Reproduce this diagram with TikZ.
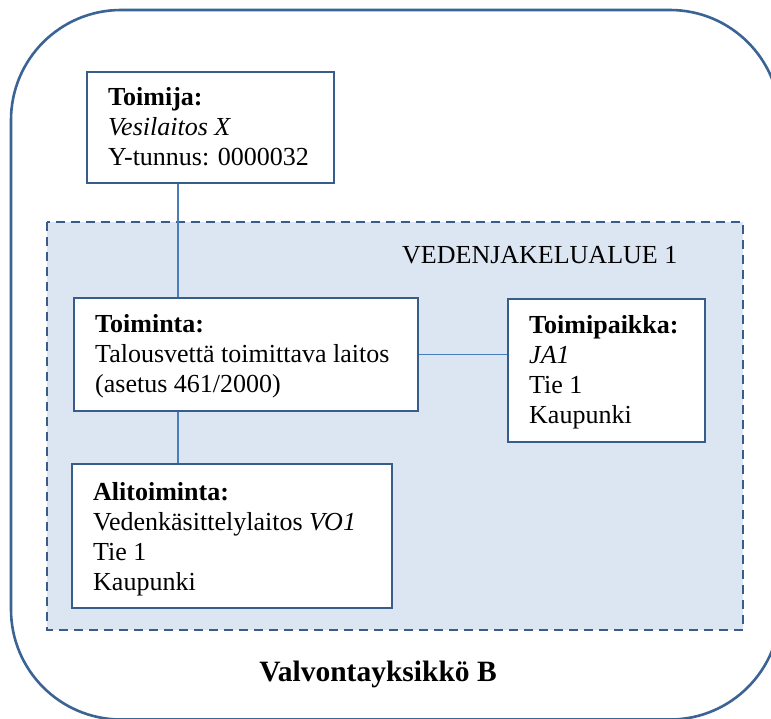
\documentclass[tikz,border=0pt]{standalone}
\usepackage{fontspec}
\setmainfont{LiberationSerif}[Extension=.ttf, UprightFont=*-Regular, BoldFont=*-Bold, ItalicFont=*-Italic, BoldItalicFont=*-BoldItalic]
\definecolor{bordercol}{HTML}{385D8A}
\definecolor{conncol}{HTML}{4A7EBB}
\definecolor{areafill}{HTML}{DCE6F2}
\definecolor{outercol}{HTML}{3B6495}
\begin{document}
\begin{tikzpicture}[x=1pt,y=-1pt,
  box/.style={draw=bordercol, line width=2pt, fill=white, inner sep=0pt, rectangle},
  conn/.style={draw=conncol, line width=1.6pt},
  txt/.style={anchor=base west, inner sep=0pt, font=\fontsize{26}{30}\selectfont},
  area/.style={draw=bordercol, line width=2.4pt, fill=areafill, dash pattern=on 9pt off 6pt}
]
\useasboundingbox (0,0) rectangle (771,718);
\clip (0,0) rectangle (771,718);
\fill[white] (0,0) rectangle (771,718);
% outer rounded frame
\draw[outercol, line width=2.6pt, rounded corners=110pt] (11,10) rectangle (780,719.5);
% dashed area
\path[area] (47,222) rectangle (743,630);
\node[txt] (areatitle) at (402,263) {VEDENJAKELUALUE 1};
% boxes
\node[box, minimum width=247pt, minimum height=111pt] (toimija) at (210.5,127.5) {};
\node[box, minimum width=344pt, minimum height=113pt] (toiminta) at (246,354.5) {};
\node[box, minimum width=197pt, minimum height=143pt] (toimipaikka) at (606.5,370.5) {};
\node[box, minimum width=320pt, minimum height=144pt] (alitoiminta) at (232,536) {};
% connectors
\coordinate (vx) at (178,0);
\draw[conn] (toimija.south -| vx) -- (toiminta.north -| vx);
\draw[conn] (toiminta.south -| vx) -- (alitoiminta.north -| vx);
\draw[conn] (toiminta.east) -- (toiminta.east -| toimipaikka.west);
% texts
\node[txt] (toimijatext) at (108,105) {\begin{tabular}[t]{@{}l@{}}\textbf{Toimija:}\\ \textit{Vesilaitos X}\\ Y-tunnus: 0000032\end{tabular}};
\node[txt] (toimintatext) at (95,332) {\begin{tabular}[t]{@{}l@{}}\textbf{Toiminta:}\\ Talousvettä toimittava laitos\\ (asetus 461/2000)\end{tabular}};
\node[txt] (toimipaikkatext) at (529,333) {\begin{tabular}[t]{@{}l@{}}\textbf{Toimipaikka:}\\ \textit{JA1}\\ Tie 1\\ Kaupunki\end{tabular}};
\node[txt] (alitoimintatext) at (93,500) {\begin{tabular}[t]{@{}l@{}}\textbf{Alitoiminta:}\\ Vedenkäsittelylaitos \textit{VO1}\\ Tie 1\\ Kaupunki\end{tabular}};
\node[anchor=base, inner sep=0pt, font=\fontsize{29.5}{34}\selectfont\bfseries] (unit) at (378,681) {Valvontayksikkö B};
\end{tikzpicture}
\end{document}
